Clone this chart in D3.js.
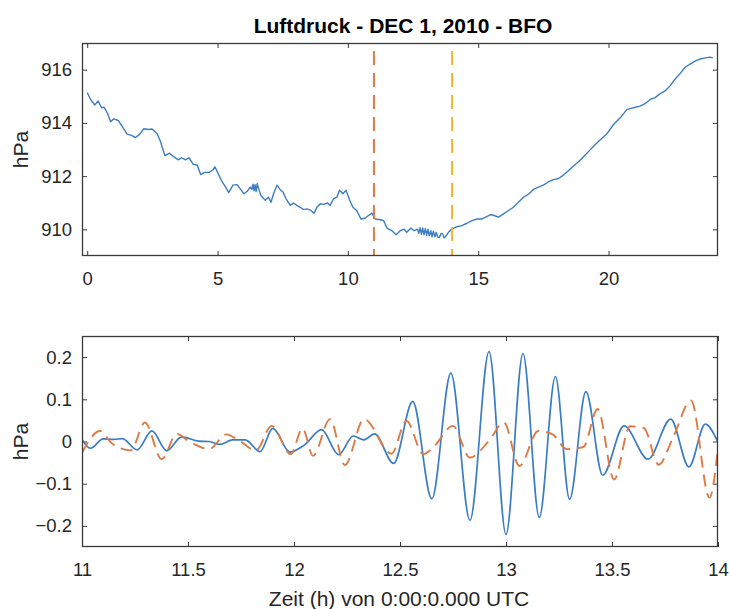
<!DOCTYPE html>
<html>
<head>
<meta charset="utf-8">
<script src="https://cdn.jsdelivr.net/npm/d3@7"></script>
<style>
  html, body { margin: 0; padding: 0; background: #fff; }
  svg { display: block; font-family: "Liberation Sans", Arial, Helvetica, sans-serif; }
</style>
</head>
<body>
<svg id="chart" width="729" height="609"></svg>
<script>
// ---------------- data ----------------
const titleText = "Luftdruck - DEC 1, 2010 - BFO";
const yLabelText = "hPa";
const xLabelText = "Zeit (h) von 0:00:0.000 UTC";

const pressureHours = [0.00,0.13,0.29,0.42,0.55,0.64,0.77,0.90,1.02,1.19,1.34,1.53,1.70,1.85,2.00,2.17,2.34,2.49,2.69,2.81,2.98,3.16,3.32,3.49,3.62,3.77,3.90,4.07,4.22,4.35,4.51,4.67,4.82,4.90,5.02,5.18,5.31,5.43,5.59,5.75,5.88,6.01,6.14,6.25,6.32,6.36,6.40,6.44,6.48,6.52,6.57,6.62,6.66,6.83,6.95,7.05,7.15,7.28,7.40,7.51,7.63,7.79,7.91,8.04,8.17,8.30,8.43,8.58,8.71,8.81,8.94,9.07,9.22,9.32,9.45,9.58,9.68,9.81,9.93,10.06,10.19,10.34,10.50,10.66,10.79,10.92,11.05,11.24,11.37,11.50,11.69,11.85,12.01,12.16,12.26,12.42,12.54,12.67,12.72,12.77,12.82,12.87,12.92,12.97,13.02,13.07,13.12,13.18,13.23,13.28,13.34,13.39,13.45,13.51,13.58,13.64,13.69,13.73,13.80,13.86,13.93,13.99,14.18,14.37,14.57,14.76,14.95,15.14,15.33,15.49,15.61,15.78,15.97,16.16,16.35,16.54,16.74,16.93,17.12,17.31,17.50,17.69,17.89,18.08,18.27,18.46,18.65,18.85,19.04,19.23,19.42,19.61,19.93,20.19,20.45,20.70,20.96,21.21,21.40,21.60,21.79,21.98,22.17,22.36,22.55,22.75,22.94,23.13,23.32,23.52,23.71,23.90,24.00];
const pressureValues = [915.14,914.88,914.67,914.82,914.57,914.59,914.38,914.04,914.15,914.09,913.87,913.58,913.53,913.45,913.56,913.78,913.75,913.77,913.58,913.30,912.77,912.86,912.73,912.61,912.69,912.61,912.69,912.44,912.42,912.06,912.14,912.14,912.23,912.35,912.10,911.78,911.59,911.38,911.66,911.68,911.51,911.34,911.43,911.59,911.50,911.70,911.45,911.68,911.42,911.72,911.55,911.40,911.28,911.09,911.21,911.02,911.34,911.66,911.50,911.40,911.15,910.90,910.99,910.90,910.83,910.74,910.77,910.71,910.61,910.83,910.96,910.94,910.99,910.90,911.15,911.21,911.47,911.34,911.47,911.12,910.83,910.71,910.39,910.42,910.52,910.61,910.39,910.36,910.33,910.05,909.95,909.80,909.95,910.01,909.89,910.05,909.95,910.01,909.85,910.06,909.82,910.05,909.80,910.03,909.78,910.01,909.76,909.95,909.72,909.93,909.72,909.89,909.70,909.70,909.85,909.83,909.68,909.72,909.80,909.89,909.96,910.01,910.10,910.14,910.23,910.33,910.39,910.39,910.48,910.56,910.52,910.46,910.58,910.71,910.83,911.02,911.21,911.32,911.50,911.59,911.66,911.78,911.87,911.91,912.04,912.20,912.38,912.54,912.73,912.92,913.11,913.30,913.58,913.94,914.19,914.50,914.57,914.63,914.72,914.88,914.95,915.10,915.20,915.39,915.64,915.86,916.09,916.21,916.32,916.40,916.44,916.47,916.44];

const windowStart = 11;   // orange dashed marker (h)
const windowEnd = 14;     // yellow dashed marker (h)

const filteredHours = [11.00,11.04,11.10,11.15,11.19,11.26,11.33,11.40,11.47,11.55,11.60,11.65,11.71,11.77,11.84,11.90,11.98,12.05,12.13,12.21,12.28,12.33,12.38,12.47,12.56,12.65,12.74,12.83,12.92,13.00,13.08,13.157,13.233,13.30,13.377,13.456,13.557,13.67,13.777,13.863,13.94,14.00];
const filteredValues = [0.005,-0.016,0.006,0.005,0.007,-0.020,0.025,-0.022,0.011,0.001,0.000,-0.007,0.004,0.004,-0.024,0.031,-0.025,-0.008,0.028,-0.031,0.013,0.004,0.018,-0.052,0.095,-0.136,0.162,-0.187,0.213,-0.220,0.208,-0.180,0.154,-0.137,0.118,-0.080,0.037,-0.042,0.053,-0.060,0.041,-0.002];

const referenceHours = [11.00,11.085,11.14,11.23,11.297,11.376,11.447,11.50,11.60,11.68,11.74,11.82,11.895,11.985,12.04,12.09,12.17,12.24,12.33,12.46,12.53,12.61,12.66,12.75,12.83,12.92,12.99,13.063,13.152,13.22,13.286,13.365,13.432,13.51,13.585,13.65,13.72,13.79,13.873,13.96,14.00];
const referenceValues = [-0.027,0.025,-0.004,-0.021,0.045,-0.042,0.018,0.002,-0.018,0.017,0.003,-0.021,0.037,-0.030,0.031,-0.034,0.053,-0.056,0.053,-0.029,0.049,-0.030,-0.012,0.037,-0.038,0.002,0.045,-0.058,0.025,0.017,-0.018,-0.013,0.077,-0.090,0.036,0.032,-0.055,0.012,0.097,-0.133,-0.015];

const topXTicks = [0, 5, 10, 15, 20];
const topYTicks = [910, 912, 914, 916];
const bottomXTicks = [11, 11.5, 12, 12.5, 13, 13.5, 14];
const bottomYTicks = [-0.2, -0.1, 0, 0.1, 0.2];

// ---------------- styles ----------------
const blue = "#3b7dc4";
const orange = "#dd7a45";
const yellow = "#eeb52c";
const axisColor = "#3a3a3a";
const tickFont = 18.5;
const labelFont = 21;

const svg = d3.select("#chart");

function panel(box, xDomain, yDomain, xTicks, yTicks, fmtX, fmtY) {
  const x = d3.scaleLinear().domain(xDomain).range([box.left, box.right]);
  const y = d3.scaleLinear().domain(yDomain).range([box.bottom, box.top]);
  const g = svg.append("g");
  const tick = 5;

  const ax = [
    g.append("g").attr("transform", `translate(0,${box.bottom})`)
      .call(d3.axisBottom(x).tickValues(xTicks).tickSize(-tick).tickPadding(16).tickFormat(fmtX)),
    g.append("g").attr("transform", `translate(0,${box.top})`)
      .call(d3.axisTop(x).tickValues(xTicks).tickSize(-tick).tickFormat("")),
    g.append("g").attr("transform", `translate(${box.left},0)`)
      .call(d3.axisLeft(y).tickValues(yTicks).tickSize(-tick).tickPadding(10).tickFormat(fmtY)),
    g.append("g").attr("transform", `translate(${box.right},0)`)
      .call(d3.axisRight(y).tickValues(yTicks).tickSize(-tick).tickFormat(""))
  ];
  ax.forEach(a => {
    a.select(".domain").remove();
    a.selectAll(".tick line").attr("stroke", axisColor).attr("stroke-width", 1);
    a.selectAll(".tick text").attr("fill", "#262626")
      .style("font-size", tickFont + "px")
      .style("font-family", '"Liberation Sans", Arial, sans-serif');
  });

  const clipId = "clip" + Math.round(box.top);
  svg.append("clipPath").attr("id", clipId).append("rect")
    .attr("x", box.left).attr("y", box.top)
    .attr("width", box.right - box.left).attr("height", box.bottom - box.top);

  const plot = svg.append("g").attr("clip-path", `url(#${clipId})`);

  const frame = () => svg.append("rect")
    .attr("x", box.left + 0.5).attr("y", box.top + 0.5)
    .attr("width", box.right - box.left - 1).attr("height", box.bottom - box.top - 1)
    .attr("fill", "none").attr("stroke", axisColor).attr("stroke-width", 1.3);

  svg.append("text")
    .attr("transform", `translate(28,${(box.top + box.bottom) / 2}) rotate(-90)`)
    .attr("text-anchor", "middle")
    .attr("fill", "#262626")
    .style("font-size", labelFont + "px")
    .text(yLabelText);

  return { x, y, plot, frame };
}

// ---------- top panel ----------
const topPanel = panel({ left: 82, right: 718, top: 43, bottom: 256 },
  [-0.2, 24.2], [909, 917], topXTicks, topYTicks, d3.format("d"), d3.format("d"));

const pressurePts = pressureHours.map((h, i) => [h, pressureValues[i]]);
topPanel.plot.append("path")
  .datum(pressurePts)
  .attr("fill", "none").attr("stroke", blue).attr("stroke-width", 1.4)
  .attr("stroke-linejoin", "round")
  .attr("d", d3.line().x(d => topPanel.x(d[0])).y(d => topPanel.y(d[1])).curve(d3.curveLinear));

[[windowStart, orange], [windowEnd, yellow]].forEach(([h, c]) => {
  topPanel.plot.append("line")
    .attr("x1", topPanel.x(h)).attr("x2", topPanel.x(h))
    .attr("y1", topPanel.y(917)).attr("y2", topPanel.y(909))
    .attr("stroke", c).attr("stroke-width", 2)
    .attr("stroke-dasharray", "14,8").attr("stroke-dashoffset", -8);
});
topPanel.frame();

svg.append("text")
  .attr("x", 403).attr("y", 33)
  .attr("text-anchor", "middle")
  .attr("fill", "#000")
  .style("font-size", "21px").style("font-weight", "bold")
  .text(titleText);

// ---------- bottom panel ----------
const botPanel = panel({ left: 82, right: 718, top: 336, bottom: 547 },
  [11, 14], [-0.25, 0.25], bottomXTicks, bottomYTicks,
  d => d3.format("")(d), d => (d === 0 ? "0" : d3.format(".1f")(d)));

const refPts = referenceHours.map((h, i) => [h, referenceValues[i]]);
const filtPts = filteredHours.map((h, i) => [h, filteredValues[i]]);
const lineB = d3.line().x(d => botPanel.x(d[0])).y(d => botPanel.y(d[1])).curve(d3.curveMonotoneX);

botPanel.plot.append("path").datum(filtPts)
  .attr("fill", "none").attr("stroke", blue).attr("stroke-width", 1.7)
  .attr("d", lineB);
botPanel.plot.append("path").datum(refPts)
  .attr("fill", "none").attr("stroke", orange).attr("stroke-width", 1.9)
  .attr("stroke-dasharray", "12,7")
  .attr("d", lineB);
botPanel.frame();

svg.append("text")
  .attr("x", 399).attr("y", 606)
  .attr("text-anchor", "middle")
  .attr("fill", "#262626")
  .style("font-size", labelFont + "px")
  .text(xLabelText);
</script>
</body>
</html>
